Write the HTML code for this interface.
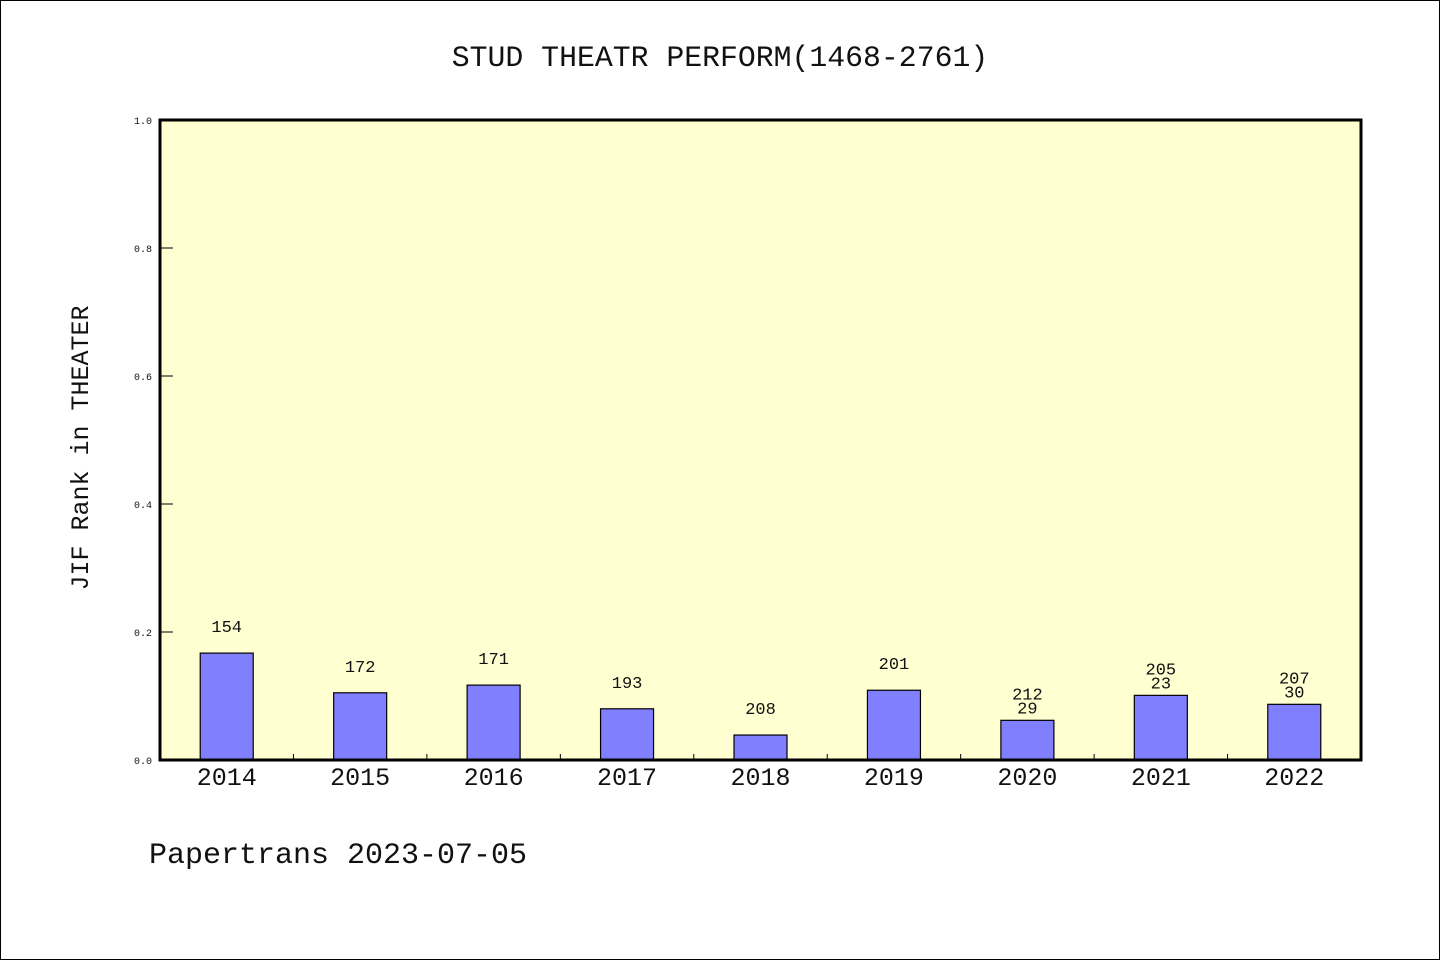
<!DOCTYPE html>
<html><head><meta charset="utf-8"><style>
html,body{margin:0;padding:0;background:#fff}
svg{display:block}
text{font-family:"Liberation Mono","DejaVu Sans Mono",monospace;fill:#111}
</style></head><body>
<svg id="chart" width="1440" height="960" xmlns="http://www.w3.org/2000/svg">
<rect x="0.5" y="0.5" width="1439" height="959" fill="#fff" stroke="#000" stroke-width="1"/>
<text x="720" y="66" text-anchor="middle" font-size="29.8">STUD THEATR PERFORM(1468-2761)</text>
<rect x="160" y="120" width="1201" height="640" fill="#ffffd2"/>
<g id="bars"></g>
<rect x="160" y="120" width="1201" height="640" fill="none" stroke="#000" stroke-width="3"/>
<g id="axes"></g>
<text transform="translate(88,448) rotate(-90)" text-anchor="middle" font-size="25">JIF Rank in THEATER</text>
<text x="149" y="863" font-size="30">Papertrans 2023-07-05</text>
</svg>
<script>
const categories=["2014","2015","2016","2017","2018","2019","2020","2021","2022"];
const values=[0.167,0.105,0.117,0.080,0.039,0.109,0.062,0.101,0.087];
const rankLabels=["154","172","171","193","208","201","212","205","207"];
const subLabels=["","","","","","","29","23","30"];
const yTicks=[0,0.2,0.4,0.6,0.8,1.0];
const tickLabels=["0.0","0.2","0.4","0.6","0.8","1.0"];
const NS="http://www.w3.org/2000/svg";
const x0=160,x1=1361,y0=760,y1=120;
const band=(x1-x0)/categories.length;
const xc=i=>x0+band*(i+0.5);
const ys=v=>y0-(v)*(y0-y1);
function mk(t,a){const e=document.createElementNS(NS,t);for(const k in a)e.setAttribute(k,a[k]);return e;}
const bars=document.getElementById('bars'),axes=document.getElementById('axes');
categories.forEach((c,i)=>{
  const top=ys(values[i]);
  const r=mk('rect',{x:xc(i)-26.5,y:top,width:53,height:y0-top,fill:'#8080ff',stroke:'#000','stroke-width':1.2});
  
  
  bars.appendChild(r);
  const hasSub=subLabels[i]!=="";
  const t=mk('text',{x:xc(i),y:top-21,'text-anchor':'middle','font-size':17});
  t.textContent=rankLabels[i];
  
  
  bars.appendChild(t);
  if(hasSub){
    const s=mk('text',{x:xc(i),y:top-7,'text-anchor':'middle','font-size':17});
    s.textContent=subLabels[i];
    
    
    bars.appendChild(s);
  }
  const xl=mk('text',{x:xc(i),y:785,'text-anchor':'middle','font-size':25});
  xl.textContent=c;
  
  
  axes.appendChild(xl);
  if(i>0){
    const tk=mk('line',{x1:x0+band*i,x2:x0+band*i,y1:y0,y2:y0-6,stroke:'#000','stroke-width':1});
    
    
    axes.appendChild(tk);
  }
});
yTicks.forEach((v,i)=>{
  const y=ys(v);
  const l=mk('line',{x1:160,x2:173,y1:y,y2:y,stroke:'#000','stroke-width':1});
  
  
  axes.appendChild(l);
  const t=mk('text',{x:152,y:y+4,'text-anchor':'end','font-size':10});
  t.textContent=tickLabels[i];
  
  
  axes.appendChild(t);
});
</script>
</body></html>
